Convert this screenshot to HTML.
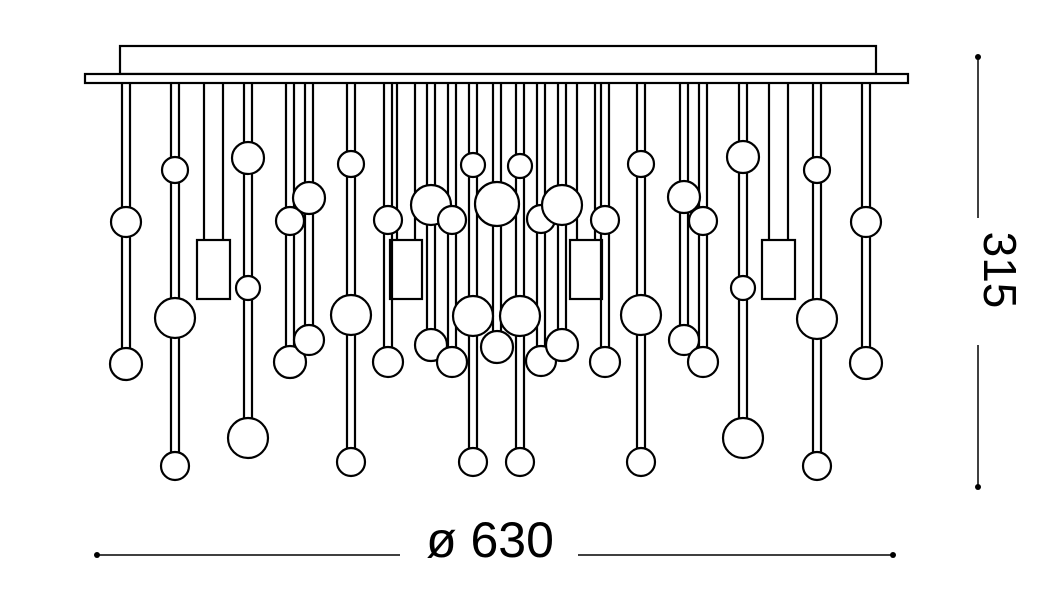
<!DOCTYPE html>
<html><head><style>html,body{margin:0;padding:0;background:#fff;}svg{display:block}</style></head>
<body>
<svg width="1051" height="597" viewBox="0 0 1051 597" xmlns="http://www.w3.org/2000/svg" id="s">
<rect x="120" y="46" width="756" height="28" fill="#fff" stroke="#000" stroke-width="2.2"/>
<rect x="85" y="74" width="823" height="9" fill="#fff" stroke="#000" stroke-width="2.2"/>
<g id="g" stroke="#000" stroke-width="2.2" fill="#fff"></g>
<g stroke="#000" stroke-width="1.5">
<line x1="978" y1="57" x2="978" y2="218"/><line x1="978" y1="345" x2="978" y2="487"/>
<line x1="97" y1="555" x2="400" y2="555"/><line x1="578" y1="555" x2="893" y2="555"/>
</g>
<g fill="#000"><circle cx="978" cy="57" r="3"/><circle cx="978" cy="487" r="3"/><circle cx="97" cy="555" r="3"/><circle cx="893" cy="555" r="3"/></g>
<text x="0" y="0" transform="translate(1000,270) rotate(90)" font-family="Liberation Sans, sans-serif" font-size="46" text-anchor="middle" dominant-baseline="central">315</text>
<text x="490" y="540" font-family="Liberation Sans, sans-serif" font-size="50" text-anchor="middle" dominant-baseline="central">ø 630</text>
</svg>
<script>
var rods=[[126,[[222,15],[364,16]]],[175,[[170,13],[318,20],[466,14]]],[248,[[158,16],[288,12],[438,20]]],[290,[[221,14],[362,16]]],[309,[[198,16],[340,15]]],[351,[[164,13],[315,20],[462,14]]],[388,[[220,14],[362,15]]],[431,[[205,20],[345,16]]],[452,[[220,14],[362,15]]],[473,[[165,12],[316,20],[462,14]]],[497,[[204,22],[347,16]]],[520,[[166,12],[316,20],[462,14]]],[541,[[219,14],[361,15]]],[562,[[205,20],[345,16]]],[605,[[220,14],[362,15]]],[641,[[164,13],[315,20],[462,14]]],[684,[[197,16],[340,15]]],[703,[[221,14],[362,15]]],[743,[[157,16],[288,12],[438,20]]],[817,[[170,13],[319,20],[466,14]]],[866,[[222,15],[363,16]]]];
var boxes=[[213,197,230],[406,390,422],[586,570,602],[779,762,795]];
var h='',c='';
boxes.forEach(function(b){h+='<line x1="'+(b[1]+7)+'" y1="84" x2="'+(b[1]+7)+'" y2="240"/><line x1="'+(b[2]-7)+'" y1="84" x2="'+(b[2]-7)+'" y2="240"/><rect x="'+b[1]+'" y="240" width="'+(b[2]-b[1])+'" height="59"/>';});
rods.forEach(function(r){var x=r[0],l=r[1][r[1].length-1];h+='<line x1="'+(x-4)+'" y1="84" x2="'+(x-4)+'" y2="'+(l[0]-l[1])+'"/><line x1="'+(x+4)+'" y1="84" x2="'+(x+4)+'" y2="'+(l[0]-l[1])+'"/>';});
rods.forEach(function(r){r[1].forEach(function(b){c+='<circle cx="'+r[0]+'" cy="'+b[0]+'" r="'+b[1]+'"/>';});});
document.getElementById('g').innerHTML=h+c;
</script>
</body></html>
